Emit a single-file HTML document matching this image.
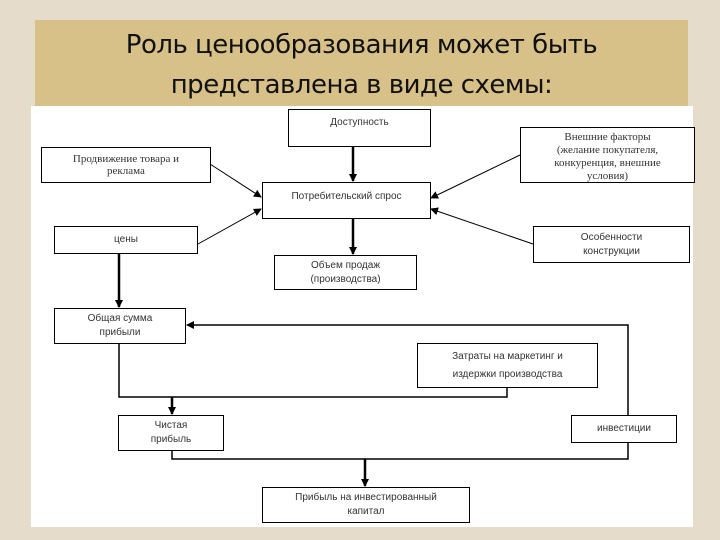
<!DOCTYPE html>
<html><head><meta charset="utf-8"><style>
body{margin:0;width:720px;height:540px;overflow:hidden;background:#e6dccb;position:relative;font-family:"Liberation Sans","DejaVu Sans",sans-serif}
.band{position:absolute;left:35px;top:20px;width:653px;height:86px;background:#d8c189}
.t{position:absolute;left:35px;width:653px;text-align:center;font-size:26px;color:#111;font-family:"DejaVu Sans","Liberation Sans",sans-serif;letter-spacing:-0.5px}
.panel{position:absolute;left:31px;top:106px;width:662px;height:421px;background:#fff}
.b{position:absolute;border:1.5px solid #000;box-sizing:border-box;background:#fff;display:flex;align-items:center;justify-content:center;text-align:center;font-size:10px;line-height:14px;color:#333;overflow:hidden}
</style></head><body>
<div class="band"></div>
<div class="t" style="top:30px">Роль ценообразования может быть</div>
<div class="t" style="top:70px">представлена в виде схемы:</div>
<div class="panel"></div>
<svg width="720" height="540" style="position:absolute;left:0;top:0">
<defs><marker id="a" markerWidth="8" markerHeight="8" refX="7" refY="4" orient="auto" markerUnits="userSpaceOnUse"><path d="M0,0L8,4L0,8z" fill="#000"/></marker></defs>
<g stroke="#000" fill="none">
<line x1="353" y1="146" x2="353" y2="181" stroke-width="2.5" marker-end="url(#a)"/>
<line x1="353" y1="218" x2="353" y2="254" stroke-width="2.5" marker-end="url(#a)"/>
<line x1="210" y1="164" x2="261" y2="197" stroke-width="1" marker-end="url(#a)"/>
<line x1="198" y1="244" x2="261" y2="209" stroke-width="1" marker-end="url(#a)"/>
<line x1="520" y1="155" x2="431" y2="198" stroke-width="1" marker-end="url(#a)"/>
<line x1="533" y1="244" x2="431" y2="209" stroke-width="1" marker-end="url(#a)"/>
<line x1="119" y1="253" x2="119" y2="307" stroke-width="2.5" marker-end="url(#a)"/>
<polyline points="119,343 119,397 507,397 507,387" stroke-width="1.5"/>
<line x1="172" y1="397" x2="172" y2="414" stroke-width="2.5" marker-end="url(#a)"/>
<polyline points="172,450 172,459 628,459 628,442" stroke-width="1.5"/>
<polyline points="628,415 628,325 187,325" stroke-width="1.5" marker-end="url(#a)"/>
<line x1="365" y1="459" x2="365" y2="486" stroke-width="2.5" marker-end="url(#a)"/>
</g></svg>
<div class="b" style="left:288px;top:109px;width:143px;height:38px;align-items:flex-start;padding-top:6px">Доступность</div>
<div class="b" style="left:41px;top:147px;width:170px;height:36px;font-family:'Liberation Serif',serif;font-size:11px;line-height:12px">Продвижение товара и<br>реклама</div>
<div class="b" style="left:520px;top:127px;width:175px;height:56px;font-family:'Liberation Serif',serif;font-size:11px;line-height:13px;align-items:flex-start;padding-top:3px">Внешние факторы<br>(желание покупателя,<br>конкуренция, внешние<br>условия)</div>
<div class="b" style="left:262px;top:182px;width:169px;height:37px;align-items:flex-start;padding-top:7px">Потребительский спрос</div>
<div class="b" style="left:54px;top:226px;width:144px;height:28px">цены</div>
<div class="b" style="left:533px;top:226px;width:157px;height:37px">Особенности<br>конструкции</div>
<div class="b" style="left:274px;top:255px;width:143px;height:35px">Объем продаж<br>(производства)</div>
<div class="b" style="left:54px;top:308px;width:132px;height:36px">Общая сумма<br>прибыли</div>
<div class="b" style="left:417px;top:343px;width:181px;height:45px;line-height:18px">Затраты на маркетинг и<br>издержки производства</div>
<div class="b" style="left:118px;top:415px;width:106px;height:36px">Чистая<br>прибыль</div>
<div class="b" style="left:571px;top:415px;width:106px;height:28px">инвестиции</div>
<div class="b" style="left:262px;top:487px;width:208px;height:36px">Прибыль на инвестированный<br>капитал</div>
</body></html>
